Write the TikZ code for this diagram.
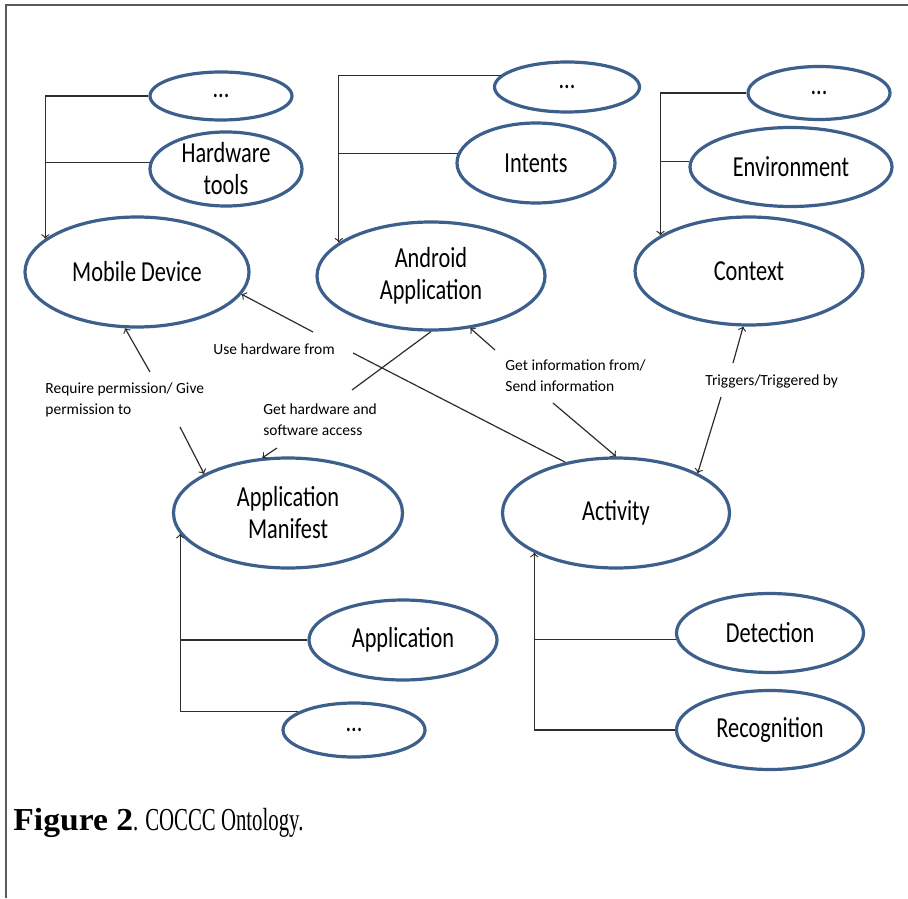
\documentclass[tikz,border=0pt]{standalone}
\usepackage{fontspec}
\setmainfont{Liberation Serif}
\newfontfamily\shapefont[FakeStretch=0.77]{Carlito}
\newfontfamily\notefont{Carlito}
\newfontfamily\capboldfont[FakeStretch=1.05,UprightFont=*-Bold]{Liberation Serif}
\newfontfamily\capfont[FakeStretch=0.65]{Liberation Serif}
\usetikzlibrary{shapes.geometric}
\definecolor{ellblue}{RGB}{60,95,140}
\definecolor{linegray}{RGB}{45,45,45}
\definecolor{framegray}{RGB}{90,90,90}
\tikzset{
	concept/.style 2 args={ellipse, draw=ellblue, line width=1.6pt, fill=white,
		minimum width=#1, minimum height=#2, inner sep=0pt, align=center,
		font=\shapefont\fontsize{14.5}{16}\selectfont},
	rel/.style={draw=linegray, line width=0.6pt},
	note/.style={anchor=west, align=left, inner sep=0pt,
		font=\notefont\fontsize{7.75}{10.5}\selectfont}
}

\begin{document}
\begin{tikzpicture}[x=0.5pt,y=-0.5pt]
	% Page frame
	\useasboundingbox (0,0) rectangle (908,898);
	\draw[framegray, line width=0.85pt] (6,898) -- (6,5) -- (908,5);
	
	% Mobile device and its parts
	\node[concept={71pt}{24pt}] (dotsmd) at (221,96) {...};
	\node[concept={76pt}{35pt}] (hw) at (226,169) {Hardware\\tools};
	\node[concept={112pt}{55pt}] (md) at (137,272) {Mobile Device};
	
	% Android application and its parts
	\node[concept={72.5pt}{25pt}] (dotsaa) at (567,87) {...};
	\node[concept={79pt}{40pt}] (intents) at (536,163) {Intents};
	\node[concept={114pt}{54pt}] (aa) at (431,276) {Android\\Application};
	
	% Context and its parts
	\node[concept={71pt}{26.5pt}] (dotscx) at (819,93) {...};
	\node[concept={101pt}{39.5pt}] (env) at (791,167) {Environment};
	\node[concept={114pt}{54pt}] (cx) at (749,271) {Context};
	
	% Application manifest and its parts
	\node[concept={114.5pt}{55pt}] (am) at (288,513) {Application\\Manifest};
	\node[concept={94pt}{40pt}] (app) at (403,640) {Application};
	\node[concept={71pt}{27pt}] (dotsam) at (354,730) {...};
	
	% Activity and its parts
	\node[concept={113.5pt}{55pt}] (act) at (616,513) {Activity};
	\node[concept={93.5pt}{39.5pt}] (det) at (770,633) {Detection};
	\node[concept={93.5pt}{39.5pt}] (rec) at (770,730) {Recognition};
	
	% Part-of links
	\draw[rel,->] (dotsmd.west) -| (md.160);
	\draw[rel] (hw.175) -- (hw.175 -| md.160);
	\draw[rel,->] (dotsaa.170) -| (aa.160);
	\draw[rel] (intents.173) -- (intents.173 -| aa.160);
	\draw[rel,->] (dotscx.west) -| (cx.158);
	\draw[rel] (env.177) -- (env.177 -| cx.158);
	\draw[rel,->] (dotsam.162) -| (am.191);
	\draw[rel] (app.west) -- (app.west -| am.191);
	\draw[rel,->] (rec.west) -| (act.206);
	\draw[rel] (det.184) -- (det.184 -| act.206);
	
	% Relation labels
	\node[note] (reqlbl) at (45,400) {Require permission/ Give\\permission to};
	\node[note] (uselbl) at (213,349) {Use hardware from};
	\node[note] (getlbl) at (263,420) {Get hardware and\\software access};
	\node[note] (infolbl) at (505,376) {Get information from/\\Send information};
	\node[note] (triglbl) at (705,381) {Triggers/Triggered by};
	
	% Gaps left for the labels
	\coordinate (reqA) at (150,372);
	\coordinate (reqB) at (180,427);
	\coordinate (useA) at (313,332);
	\coordinate (useB) at (353,353);
	\coordinate (getA) at (352,390);
	\coordinate (getB) at (277,448);
	\coordinate (infoA) at (495,350);
	\coordinate (infoB) at (553,403);
	\coordinate (trigA) at (733,363);
	\coordinate (trigB) at (721,397);
	
	% Relations
	\draw[rel,->] (reqA) -- (md.258);
	\draw[rel,->] (reqB) -- (am.155);
	\draw[rel,->] (useA) -- (md.348);
	\draw[rel] (act.135) -- (useB);
	\draw[rel] (aa.south) -- (getA);
	\draw[rel,->] (getB) -- (am.115);
	\draw[rel,->] (infoA) -- (aa.307);
	\draw[rel,->] (infoB) -- (act.north);
	\draw[rel,->] (trigA) -- (cx.264);
	\draw[rel,->] (trigB) -- (act.26);
	
	% Caption
	\node[anchor=base west, inner sep=0pt, font=\fontsize{16}{19}\selectfont] (caption) at (13,830) {{\capboldfont Figure 2}{\capfont . COCCC Ontology.}};
\end{tikzpicture}
\end{document}
